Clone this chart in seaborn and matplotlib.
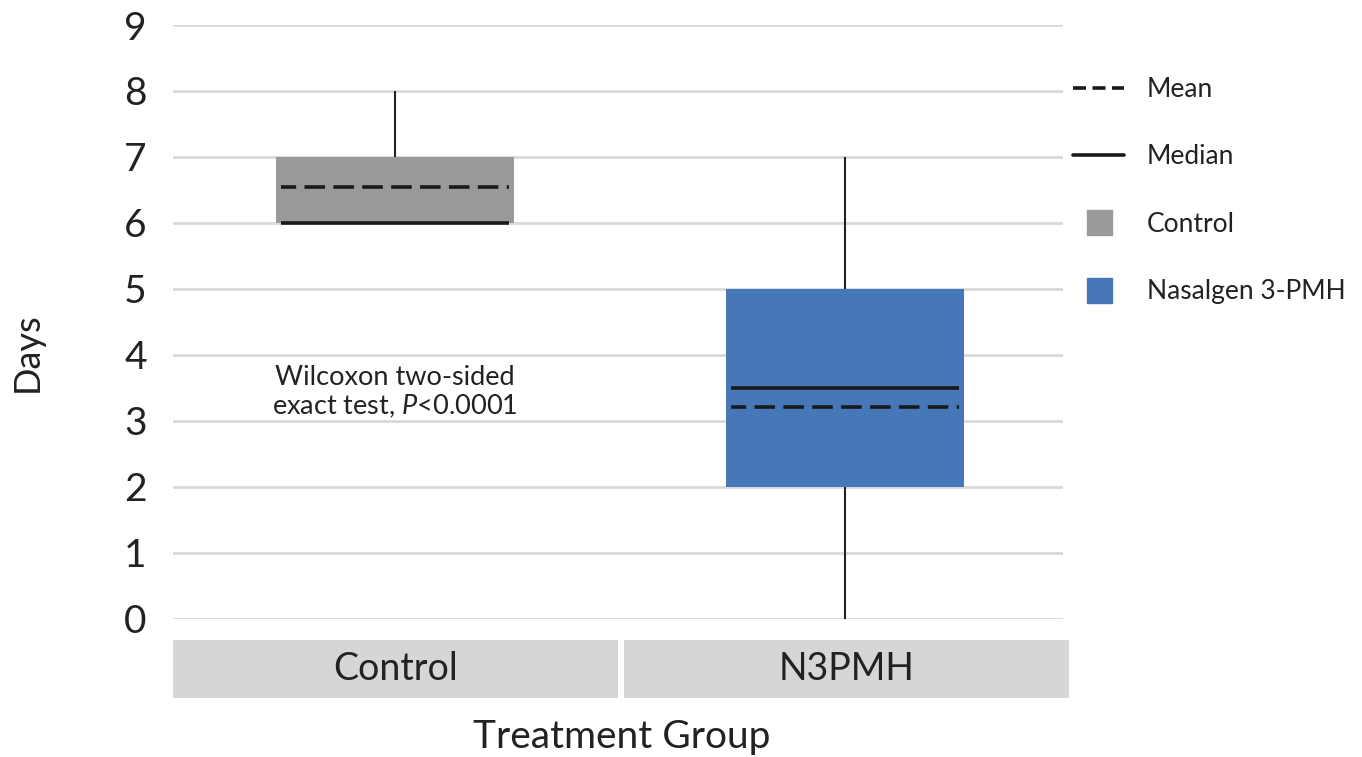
import numpy as np
import pandas as pd
import matplotlib
matplotlib.use("Agg")
import matplotlib.pyplot as plt
from matplotlib.lines import Line2D
from matplotlib.patches import Rectangle
from matplotlib.transforms import blended_transform_factory
import seaborn as sns

# =============================
# Data
# =============================
groups = ["Control", "N3PMH"]
legend_names = ["Control", "Nasalgen 3-PMH"]
box_colors = ["#999999", "#4677b8"]
# five-number summary: lower whisker, Q1, median, Q3, upper whisker
whisker_low = [6, 0]
q1 = [6, 2]
medians = [6, 3.5]
q3 = [7, 5]
whisker_high = [8, 7]
means = [6.55, 3.2]
y_ticks = list(range(0, 10))
note = "Wilcoxon two-sided\nexact test, $P$<0.0001"

# long table built from the summaries (one row per summary value)
rows = []
for g, lo, a, m, b, hi in zip(groups, whisker_low, q1, medians, q3, whisker_high):
    for v in (lo, a, m, b, hi):
        rows.append({"Group": g, "Days": v})
data = pd.DataFrame(rows)

# =============================
# Style
# =============================
sns.set_style("whitegrid")
plt.rcParams["font.family"] = ["Lato", "DejaVu Sans"]
plt.rcParams["mathtext.fontset"] = "custom"
plt.rcParams["mathtext.rm"] = "Lato"
plt.rcParams["mathtext.it"] = "Lato:italic"
text_col = "#222222"

fig = plt.figure(figsize=(13.62, 7.57), dpi=100)
ax = fig.add_axes([173 / 1362, 1 - 618.5 / 757, 890 / 1362, 593.5 / 757])

box_w = 0.528
sns.boxplot(data=data, x="Group", y="Days", hue="Group", order=groups,
            palette=dict(zip(groups, box_colors)), legend=False, saturation=1,
            width=box_w, showcaps=False, showfliers=False, whis=1.5,
            boxprops=dict(linewidth=0),
            whiskerprops=dict(color=text_col, linewidth=1.5),
            medianprops=dict(linewidth=0), ax=ax)

# median and mean lines, slightly inset from box edges
xs = np.arange(len(groups))
hw = box_w / 2 - 0.011
ax.hlines(medians, xs - hw, xs + hw, colors="#1a1a1a", linewidth=2.6, zorder=5)
ax.hlines(means, xs - hw, xs + hw, colors="#1a1a1a", linewidth=2.6,
          linestyles=(1.5, (5.7, 2.3)), zorder=5)

ax.set_xlim(-0.492, 1.483)
ax.set_ylim(0, 9)
ax.set_yticks(y_ticks)
ax.tick_params(axis="y", length=0, pad=19, labelsize=28, labelcolor=text_col)
ax.set_xticks([])
ax.set_xlabel("")
ax.set_ylabel("")
ax.grid(axis="y", color="#d9d9d9", linewidth=2)
ax.grid(axis="x", visible=False)
for s in ax.spines.values():
    s.set_visible(False)

# category band below the axis
trans = blended_transform_factory(ax.transData, ax.transAxes)
band_left = [-0.492, 0.509]
for i, g in enumerate(groups):
    ax.add_patch(Rectangle((band_left[i], -0.134), 0.987, 0.0977, transform=trans,
                           facecolor="#d5d6d6", edgecolor="none", clip_on=False))
    ax.text(band_left[i] + 0.987 / 2, -0.085, g, transform=trans, ha="center",
            va="center", fontsize=27, color=text_col)

ax.text(0, 3.43, note, ha="center", va="center", fontsize=19.5, color=text_col,
        linespacing=1.1)

fig.text(622 / 1362, 1 - 737 / 757, "Treatment Group", ha="center", va="center",
         fontsize=28, color=text_col)
fig.text(27 / 1362, 1 - 352 / 757, "Days", ha="center", va="center",
         rotation=90, fontsize=26, color=text_col)

handles = [
    Line2D([], [], color="#1a1a1a", linewidth=2.6, linestyle=(0, (3.6, 1.8))),
    Line2D([], [], color="#1a1a1a", linewidth=2.6),
    Line2D([], [], color=box_colors[0], marker="s", linestyle="none", markersize=18),
    Line2D([], [], color=box_colors[1], marker="s", linestyle="none", markersize=18),
]
labels = ["Mean", "Median"] + legend_names
ax.legend(handles, labels, loc="upper left", bbox_to_anchor=(1.011, 0.912),
          frameon=False, fontsize=19, handlelength=1.95, handletextpad=0.85,
          labelspacing=1.6, borderpad=0, borderaxespad=0, labelcolor=text_col)

plt.savefig("out.png", dpi=100)
